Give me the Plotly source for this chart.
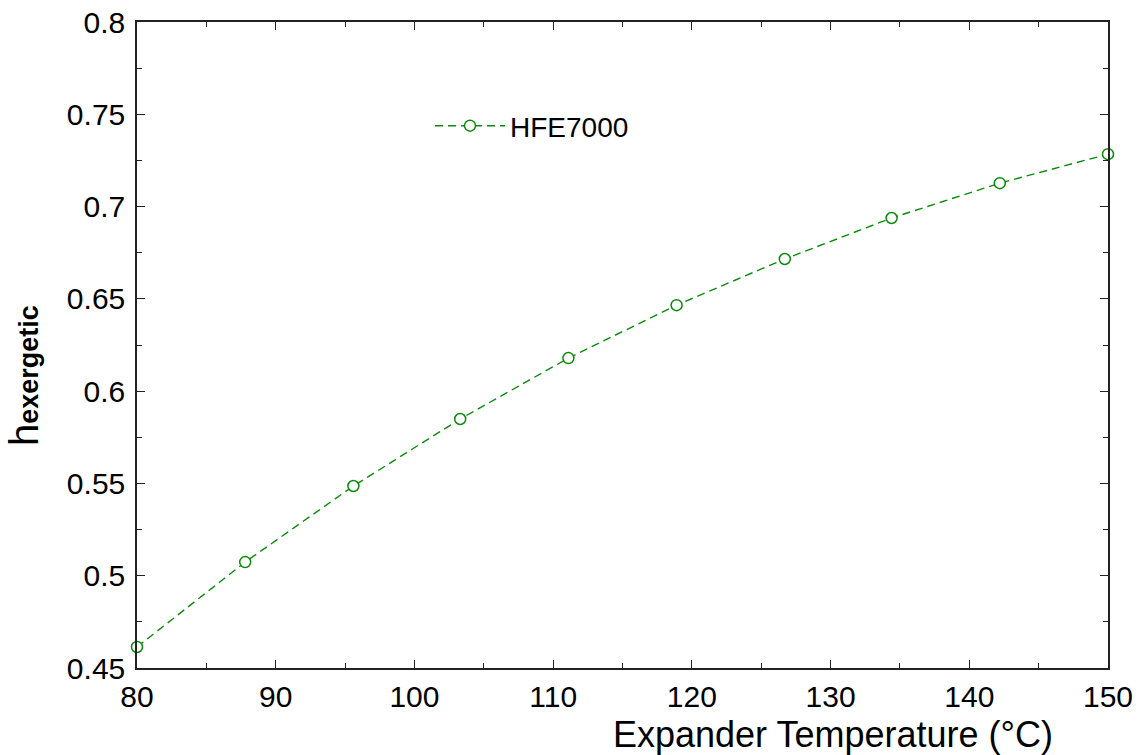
import plotly.graph_objects as go

# Data
temperature = [80.0, 87.8, 95.6, 103.3, 111.1, 118.9, 126.7, 134.4, 142.2, 150.0]
eta_exergetic = [0.4614, 0.5074, 0.5486, 0.5849, 0.6179, 0.6466, 0.6716, 0.6938, 0.7127, 0.7284]
series_name = "HFE7000"

x_tickvals = [80, 90, 100, 110, 120, 130, 140, 150]
x_ticktext = ["80", "90", "100", "110", "120", "130", "140", "150"]
y_tickvals = [0.45, 0.5, 0.55, 0.6, 0.65, 0.7, 0.75, 0.8]
y_ticktext = ["0.45", "0.5", "0.55", "0.6", "0.65", "0.7", "0.75", "0.8"]

GREEN = "#0a8a0a"
AXC = "#222222"
FONT = "Liberation Sans, Arial, sans-serif"

W, H = 1145, 755
L, R, T, B = 137, 37, 22, 87
pw, ph = W - L - R, H - T - B

fig = go.Figure()
fig.add_trace(go.Scatter(
    x=temperature, y=eta_exergetic, name=series_name, mode="lines+markers",
    line=dict(color=GREEN, width=1.4, dash="8px,5px"),
    marker=dict(symbol="circle", size=11, color="white", line=dict(width=1.5, color=GREEN)),
    cliponaxis=False,
))

axis_common = dict(
    showgrid=False, zeroline=False, showline=True, linecolor=AXC, linewidth=1.5,
    mirror="ticks", ticks="inside", ticklen=8, tickwidth=1.3, tickcolor=AXC,
    tickfont=dict(family=FONT, size=30, color="black"),
)
fig.update_xaxes(range=[80, 150], tickmode="array", tickvals=x_tickvals, ticktext=x_ticktext,
                 minor=dict(ticks="inside", ticklen=5, dtick=5, tickwidth=1.3, tickcolor=AXC, showgrid=False),
                 ticklabelstandoff=1, **axis_common)
fig.update_yaxes(range=[0.45, 0.8], tickmode="array", tickvals=y_tickvals, ticktext=y_ticktext,
                 minor=dict(ticks="inside", ticklen=5, dtick=0.025, tickwidth=1.3, tickcolor=AXC, showgrid=False),
                 ticklabelstandoff=4, **axis_common)

fig.update_layout(
    width=W, height=H, margin=dict(l=L, r=R, t=T, b=B, autoexpand=False),
    plot_bgcolor="white", paper_bgcolor="white",
    font=dict(family=FONT, color="black"),
    showlegend=True,
    legend=dict(x=(430 - L) / pw, y=(H - B - 126) / ph, xanchor="left", yanchor="middle",
                bgcolor="rgba(0,0,0,0)", borderwidth=0, itemwidth=70,
                font=dict(family=FONT, size=28, color="black")),
    annotations=[
        dict(text="Expander Temperature (°C)", xref="paper", yref="paper",
             x=(833 - L) / pw, y=-(734 - (H - B)) / ph, xanchor="center", yanchor="middle",
             showarrow=False, font=dict(family=FONT, size=36, color="black")),
        dict(text="<span style='font-size:40px'>h</span><b>exergetic</b>", xref="paper", yref="paper",
             x=(24 - L) / pw, y=(H - B - 376) / ph, xanchor="center", yanchor="middle",
             textangle=-90, showarrow=False, font=dict(family=FONT, size=27, color="black")),
    ],
)

fig.write_html("out.html")
